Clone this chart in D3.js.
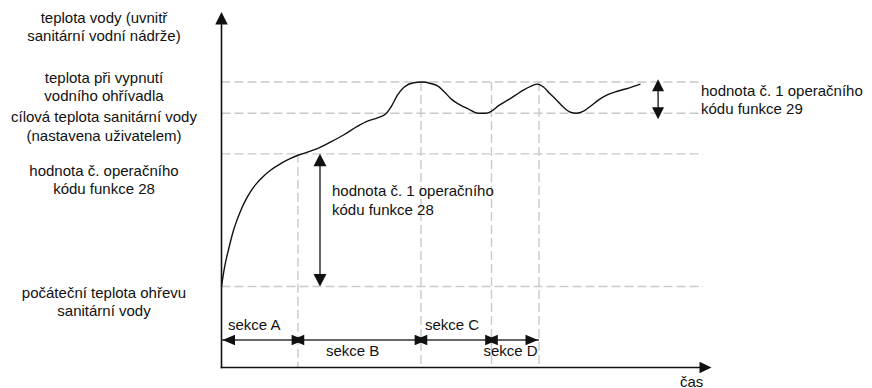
<!DOCTYPE html>
<html>
<head>
<meta charset="utf-8">
<script src="https://cdn.jsdelivr.net/npm/d3@7/dist/d3.min.js"></script>
<style>
  html, body { margin: 0; padding: 0; background: #fff; }
  svg { display: block; font-family: "Liberation Sans", Arial, Helvetica, sans-serif; }
</style>
</head>
<body>
<svg id="chart" width="872" height="388"></svg>
<script>
// Water temperature over time (abstract units: time 0–100, temperature 0–100)
const timeValues = [0, 0.4, 0.8, 1.3, 1.9, 2.5, 3.2, 4.0, 4.9, 5.9, 7.0, 8.4, 10.0, 12.0, 14.1, 15.6,
  18.0, 20.2, 22.2, 24.9, 27.8, 29.8, 31.6, 33.5, 34.7, 35.9, 37.3, 39.2, 41.0, 42.7, 44.1, 45.5,
  46.9, 48.4, 50.4, 52.4, 53.9, 55.1, 56.7, 58.4, 60.0, 61.6, 63.3, 64.5, 65.7, 66.9, 68.4, 69.8,
  71.2, 72.4, 73.9, 75.3, 76.9, 78.6, 80.8, 83.1, 85.5];
const tempValues = [22.8, 26.4, 29.4, 32.4, 35.8, 38.8, 41.6, 44.4, 47.0, 49.4, 51.5, 53.6, 55.5, 57.3, 58.8, 59.7,
  60.8, 62.0, 63.4, 65.4, 67.9, 69.3, 70.1, 71.3, 73.5, 76.6, 78.9, 80.1, 80.3, 79.9, 79.2, 77.5,
  75.5, 74.1, 72.7, 71.5, 71.5, 72.1, 73.8, 75.2, 76.6, 78.0, 79.2, 79.7, 78.9, 77.2, 75.2, 73.2,
  71.8, 71.5, 72.1, 73.5, 75.2, 76.6, 77.7, 78.6, 79.7];

// Reference temperature levels
const levelNames = ["offTemp", "targetTemp", "fn28Value", "startTemp"];
const levelValues = [80.3, 71.5, 60.1, 22.8];
const levelLabels = [
  ["teplota při vypnutí", "vodního ohřívadla"],
  ["cílová teplota sanitární vody", "(nastavena uživatelem)"],
  ["hodnota č. operačního", "kódu funkce 28"],
  ["počáteční teplota ohřevu", "sanitární vody"]
];

// Section boundaries on the time axis and section names
const sectionBounds = [0, 15.6, 40.7, 55.1, 64.8];
const sectionNames = ["sekce A", "sekce B", "sekce C", "sekce D"];
const sectionLabelAbove = [true, false, true, false];
const boundaryTopLevel = [null, 60.1, 80.3, 80.3, 80.3];

const yAxisTitle = ["teplota vody (uvnitř", "sanitární vodní nádrže)"];
const xAxisTitle = "čas";
const fn28Note = ["hodnota č. 1 operačního", "kódu funkce 28"];
const fn29Note = ["hodnota č. 1 operačního", "kódu funkce 29"];

const svg = d3.select("#chart");
const x = d3.scaleLinear().domain([0, 100]).range([221.5, 711.5]);
const y = d3.scaleLinear().domain([0, 100]).range([367.5, 12]);

const ink = "#111";
const gridColor = "#c9c9c9";
const fontSize = 15;

// Dashed guide lines
const gridG = svg.append("g")
  .attr("stroke", gridColor).attr("stroke-width", 1.4).attr("stroke-dasharray", "9,4").attr("fill", "none");
levelValues.forEach(v => {
  gridG.append("line")
    .attr("x1", x(0)).attr("x2", 703)
    .attr("y1", y(v)).attr("y2", y(v));
});
sectionBounds.forEach((t, i) => {
  if (boundaryTopLevel[i] === null) return;
  gridG.append("line")
    .attr("x1", x(t)).attr("x2", x(t))
    .attr("y1", y(boundaryTopLevel[i])).attr("y2", y(0));
});

// Temperature curve
const pts = timeValues.map((t, i) => [t, tempValues[i]]);
svg.append("path")
  .datum(pts)
  .attr("fill", "none").attr("stroke", ink).attr("stroke-width", 1.4)
  .attr("d", d3.line().x(d => x(d[0])).y(d => y(d[1])).curve(d3.curveMonotoneX));

// Arrowhead helper: tip at (tx,ty), pointing in direction dir ("up","down","left","right")
function head(g, tx, ty, dir, len, wid) {
  const h = wid / 2;
  let p;
  if (dir === "up") p = [[tx, ty], [tx - h, ty + len], [tx + h, ty + len]];
  if (dir === "down") p = [[tx, ty], [tx - h, ty - len], [tx + h, ty - len]];
  if (dir === "left") p = [[tx, ty], [tx + len, ty - h], [tx + len, ty + h]];
  if (dir === "right") p = [[tx, ty], [tx - len, ty - h], [tx - len, ty + h]];
  g.append("path").attr("d", "M" + p.map(q => q.join(",")).join("L") + "Z").attr("fill", ink);
}

// Axes
const axisG = svg.append("g");
axisG.append("line").attr("x1", x(0)).attr("x2", x(0)).attr("y1", y(0) + 0.8).attr("y2", y(100) + 10)
  .attr("stroke", ink).attr("stroke-width", 1.6);
axisG.append("line").attr("x1", x(0) - 0.8).attr("x2", x(100) - 10).attr("y1", y(0)).attr("y2", y(0))
  .attr("stroke", ink).attr("stroke-width", 1.6);
head(axisG, x(0), y(100), "up", 12.5, 12.5);
head(axisG, x(100), y(0), "right", 12, 11.5);

// Function 28 range arrow
const annG = svg.append("g");
const fn28Time = 20.1;
annG.append("line").attr("x1", x(fn28Time)).attr("x2", x(fn28Time))
  .attr("y1", y(levelValues[2]) + 6).attr("y2", y(levelValues[3]) - 6)
  .attr("stroke", ink).attr("stroke-width", 1.3);
head(annG, x(fn28Time), y(levelValues[2]), "up", 12.5, 13);
head(annG, x(fn28Time), y(levelValues[3]), "down", 12.5, 13);

// Function 29 hysteresis arrow
const fn29Time = 89.1;
const fn29Top = 81.1, fn29Bottom = 69.8;
annG.append("line").attr("x1", x(fn29Time)).attr("x2", x(fn29Time))
  .attr("y1", y(fn29Top) + 6).attr("y2", y(fn29Bottom) - 6)
  .attr("stroke", ink).attr("stroke-width", 1.3);
head(annG, x(fn29Time), y(fn29Top), "up", 12, 12);
head(annG, x(fn29Time), y(fn29Bottom), "down", 12, 12);

// Section arrows
const secY = 340;
const secG = svg.append("g");
const headLen = 12.5, headWid = 10.5;
sectionNames.forEach((name, i) => {
  const a = x(sectionBounds[i]), b = x(sectionBounds[i + 1]);
  secG.append("line").attr("x1", a).attr("x2", b).attr("y1", secY).attr("y2", secY)
    .attr("stroke", "#333").attr("stroke-width", 1.5);
});
// outer ends
head(secG, x(sectionBounds[0]) + 1, secY, "left", headLen, headWid);
head(secG, x(sectionBounds[4]) - 1, secY, "right", headLen, headWid);
// bowties at internal boundaries
[1, 2, 3].forEach(i => {
  const c = x(sectionBounds[i]);
  head(secG, c + 6.2, secY, "right", headLen, headWid);
  head(secG, c - 6.2, secY, "left", headLen, headWid);
});

// Text
const textG = svg.append("g").attr("fill", ink).attr("font-size", fontSize);
function lines(arr, tx, ty, anchor, gap) {
  arr.forEach((s, k) => {
    textG.append("text").attr("x", tx).attr("y", ty + k * gap)
      .attr("text-anchor", anchor).text(s);
  });
}
lines(yAxisTitle, 104, 23, "middle", 18);
const levelBaselines = [83, 122, 176, 298];
levelLabels.forEach((ls, i) => lines(ls, 104, levelBaselines[i], "middle", i === 1 ? 19 : 17.5));
lines(fn28Note, 332, 195.5, "start", 19);
lines(fn29Note, 701, 96, "start", 17.5);
textG.append("text").attr("x", 680).attr("y", 386.5).text(xAxisTitle);

const secLabelX = [228, 326, 425, 483.5];
sectionNames.forEach((name, i) => {
  textG.append("text").attr("x", secLabelX[i]).attr("y", sectionLabelAbove[i] ? 329.5 : 355.5).text(name);
});
</script>
</body>
</html>
